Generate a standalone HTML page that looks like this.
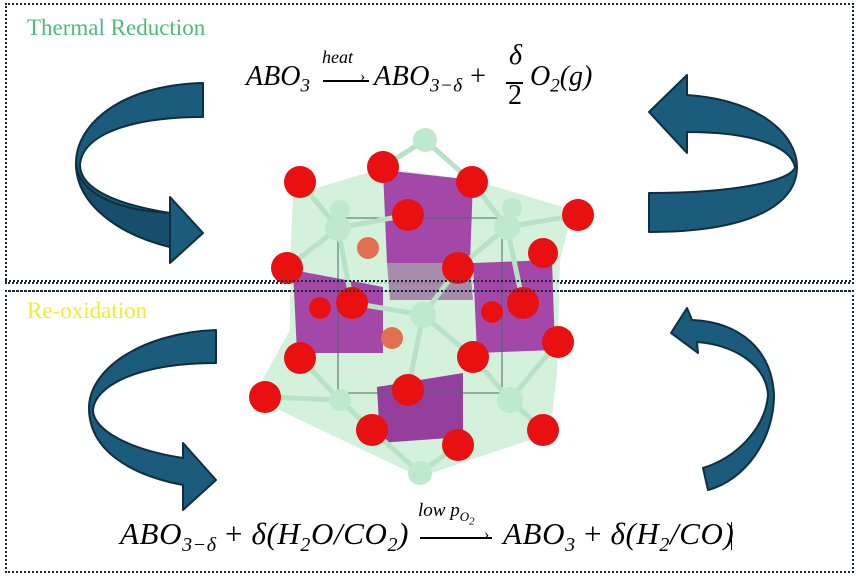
<!DOCTYPE html>
<html><head><meta charset="utf-8"><style>
html,body{margin:0;padding:0;background:#fff;}
body{width:856px;height:580px;position:relative;overflow:hidden;font-family:"Liberation Serif",serif;}
.box{position:absolute;border:2px dotted #1a2a3a;}
.t{position:absolute;font-family:"Liberation Serif",serif;font-size:23px;}
.eq{position:absolute;font-family:"Liberation Serif",serif;font-style:italic;font-size:28px;white-space:nowrap;color:#000;}
svg{position:absolute;left:0;top:0;}
</style></head><body>
<div class="box" style="left:5px;top:3px;width:845px;height:277px;"></div>
<div class="box" style="left:5px;top:290px;width:845px;height:279px;"></div>
<div class="t" style="left:27px;top:15px;color:#4cbb78;">Thermal Reduction</div>
<div class="t" style="left:27px;top:298px;color:#f0ec30;">Re-oxidation</div>

<svg width="856" height="580" viewBox="0 0 856 580">
<g fill="#1b5b7c" stroke="#0f2f40" stroke-width="2" stroke-linejoin="round">
<path d="M203,83 C120,85 76,125 76,163 C76,205 120,235 170,247 L170,263 L203,233 L170,197 L170,213 C120,205 80,190 80,165 C82,135 130,117 203,117 Z"/>
<path d="M76,163 C78,190 110,210 170,213 L170,247 C120,235 76,205 76,163Z" fill="#164e6c"/>
<path d="M649,112 L687,75 L687,95 C760,100 797,135 797,167 C797,205 750,232 649,232 L649,193 C740,193 792,180 795,167 C790,145 750,132 687,132 L687,153 Z"/>
<path d="M216,330 C140,333 89,370 89,408 C89,450 130,475 183,485 L183,510 L216,480 L183,443 L183,458 C130,450 93,430 93,410 C95,385 140,363 216,363 Z"/>
<path d="M671,333 L687,308 L692,320 C740,322 772,350 774,395 C774,440 745,480 708,490 L703,468 C735,458 765,430 768,395 C766,365 735,345 697,342 L698,353 Z"/>
</g>

<g>
<polygon points="293,195 383,168 473,180 573,210 560,260 557,373 550,433 420,477 300,420 253,397 290,330 290,263" fill="#cdeed6" opacity="0.85"/>
<polygon points="383,170 473,180 470,263 387,263" fill="#9a2aa0" opacity="0.85"/>
<polygon points="293,270 383,287 383,353 297,353" fill="#9a2aa0" opacity="0.85"/>
<polygon points="473,263 552,260 555,350 477,353" fill="#9a2aa0" opacity="0.85"/>
<polygon points="377,387 463,373 463,437 380,443" fill="#8a2090" opacity="0.85"/>
<polygon points="387,263 470,263 473,300 390,300" fill="#7a2a7a" opacity="0.5"/>
<rect x="338" y="218" width="164" height="175" fill="none" stroke="#4a6a6a" stroke-width="1"/>
<g stroke="#b8e2c6" stroke-width="5">
<line x1="425" y1="140" x2="383" y2="167"/><line x1="425" y1="140" x2="472" y2="182"/>
<line x1="338" y1="228" x2="300" y2="182"/><line x1="338" y1="228" x2="287" y2="268"/><line x1="338" y1="228" x2="408" y2="215"/><line x1="338" y1="228" x2="352" y2="303"/>
<line x1="507" y1="227" x2="472" y2="182"/><line x1="507" y1="227" x2="578" y2="215"/><line x1="507" y1="227" x2="458" y2="268"/><line x1="507" y1="227" x2="523" y2="303"/>
<line x1="423" y1="315" x2="352" y2="303"/><line x1="423" y1="315" x2="473" y2="357"/><line x1="423" y1="315" x2="458" y2="268"/><line x1="423" y1="315" x2="408" y2="390"/>
<line x1="510" y1="400" x2="473" y2="357"/><line x1="510" y1="400" x2="543" y2="430"/><line x1="510" y1="400" x2="558" y2="342"/>
<line x1="340" y1="400" x2="300" y2="358"/><line x1="340" y1="400" x2="265" y2="397"/><line x1="340" y1="400" x2="372" y2="430"/>
<line x1="420" y1="473" x2="372" y2="430"/><line x1="420" y1="473" x2="458" y2="445"/>
</g>
<g fill="#e07050"><circle cx="368" cy="248" r="11"/><circle cx="392" cy="338" r="11"/></g>
<g fill="#bfe9cd">
<circle cx="425" cy="140" r="12"/><circle cx="338" cy="228" r="13"/><circle cx="507" cy="227" r="13"/>
<circle cx="423" cy="315" r="13"/><circle cx="510" cy="400" r="13"/><circle cx="340" cy="400" r="11"/><circle cx="420" cy="473" r="12"/>
<circle cx="340" cy="210" r="10"/><circle cx="512" cy="208" r="10"/>
</g>
<g fill="#e81010">
<circle cx="320" cy="308" r="11"/><circle cx="492" cy="312" r="11"/>
<circle cx="300" cy="182" r="16"/><circle cx="383" cy="167" r="16"/><circle cx="472" cy="182" r="16"/>
<circle cx="408" cy="215" r="16"/><circle cx="578" cy="215" r="16"/><circle cx="287" cy="268" r="16"/>
<circle cx="458" cy="268" r="16"/><circle cx="543" cy="253" r="15"/><circle cx="352" cy="303" r="16"/>
<circle cx="523" cy="303" r="16"/><circle cx="300" cy="358" r="16"/><circle cx="558" cy="342" r="16"/>
<circle cx="473" cy="357" r="16"/><circle cx="265" cy="397" r="16"/><circle cx="408" cy="390" r="16"/>
<circle cx="372" cy="430" r="16"/><circle cx="543" cy="430" r="16"/><circle cx="458" cy="445" r="16"/>
</g>
</g>
<line x1="5" y1="281" x2="851" y2="281" stroke="#1a2a3a" stroke-width="2" stroke-dasharray="2,2"/>
<line x1="5" y1="291" x2="851" y2="291" stroke="#1a2a3a" stroke-width="2" stroke-dasharray="2,2"/>
</svg>

<div class="eq" style="left:246px;top:61px;">ABO<sub style="font-size:19px">3</sub></div>
<div class="eq" style="left:322px;top:47px;font-size:18px;">heat</div>
<div style="position:absolute;left:323px;top:80px;width:46px;height:1.5px;background:#000;"></div>
<div class="eq" style="left:360px;top:68px;font-size:16px;font-style:normal;">&#8250;</div>
<div class="eq" style="left:374px;top:61px;letter-spacing:0.5px;">ABO<sub style="font-size:19px">3−δ</sub> <span style="font-style:normal">+</span></div>
<div class="eq" style="left:509px;top:40px;">δ</div>
<div style="position:absolute;left:506px;top:82px;width:17px;height:1.5px;background:#000;"></div>
<div class="eq" style="left:508px;top:80px;font-style:normal;">2</div>
<div class="eq" style="left:530px;top:61px;">O<sub style="font-size:19px">2</sub>(g)</div>

<div class="eq" style="left:120px;top:516px;font-size:31px;letter-spacing:0.6px;">ABO<sub style="font-size:20px">3−δ</sub> <span style="font-style:normal">+</span> δ(H<sub style="font-size:20px">2</sub>O/CO<sub style="font-size:20px">2</sub>)</div>
<div class="eq" style="left:418px;top:500px;font-size:19px;">low p<sub style="font-size:13px">O<sub>2</sub></sub></div>
<div style="position:absolute;left:420px;top:537px;width:72px;height:1.5px;background:#000;"></div>
<div class="eq" style="left:484px;top:526px;font-size:16px;font-style:normal;">&#8250;</div>
<div class="eq" style="left:503px;top:516px;font-size:31px;letter-spacing:0.6px;">ABO<sub style="font-size:20px">3</sub> <span style="font-style:normal">+</span> δ(H<sub style="font-size:20px">2</sub>/CO)</div>
<div style="position:absolute;left:731px;top:522px;width:1px;height:28px;background:#000;"></div>
</body></html>
